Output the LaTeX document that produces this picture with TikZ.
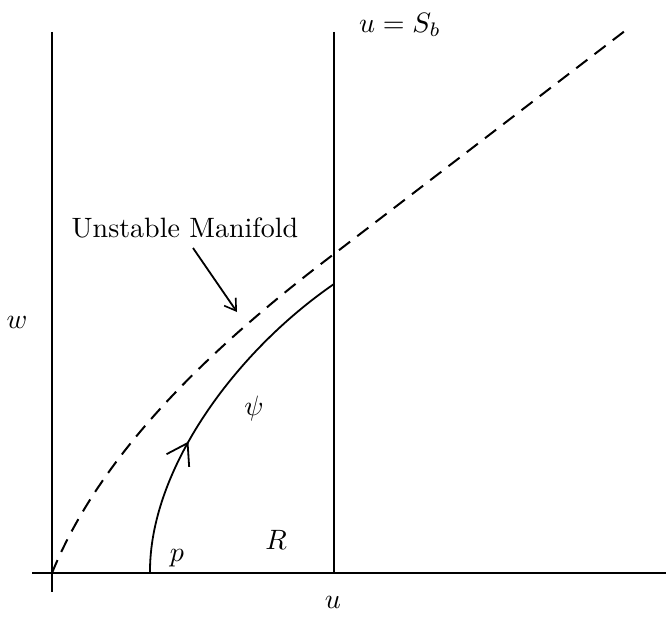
\documentclass[tikz,border=0pt]{standalone}
\usetikzlibrary{arrows.meta,decorations.markings}
\begin{document}
\begin{tikzpicture}[x=1pt,y=-1pt,
  axis/.style={line width=2pt},
  curve/.style={line width=1.8pt},
  manifold/.style={line width=2pt, dash pattern=on 14pt off 9pt},
  lab/.style={inner sep=0pt, scale=2.8},
]
\useasboundingbox (0,0) rectangle (666,623);
% axes and walls
\coordinate (haxL) at (32,573);
\coordinate (haxR) at (666,573);
\coordinate (vLtop) at (52,32);
\coordinate (vLbot) at (52,592);
\coordinate (vRtop) at (334,32);
\coordinate (vRbot) at (334,573);
\draw[axis] (haxL) -- (haxR);
\draw[axis] (vLtop) -- (vLbot);
\draw[axis] (vRtop) -- (vRbot);
% unstable manifold
\coordinate (O) at (52,573);
\coordinate (B) at (334,254);
\coordinate (E) at (630,27);
\draw[manifold] (O) .. controls (90,480) and (170,378) .. (B) -- (E);
% trajectory psi
\coordinate (P) at (150,573);
\coordinate (Q) at (334,284);
\draw[curve, postaction={decorate},
  decoration={markings, mark=at position 0.39 with {\arrow{Straight Barb[length=20pt,width=26pt,line width=1.8pt]}}}]
  (P) .. controls (149,470) and (235,352) .. (Q);
% labels
\node[lab] (um) at (185,228) {Unstable Manifold};
\coordinate (umstart) at (193,248);
\coordinate (umtip) at (237,312);
\draw[curve, -{Straight Barb[length=11pt,width=14pt,line width=1.6pt]}] (umstart) -- (umtip);
\node[lab] (sb) at (400,25) {$u=S_b$};
\node[lab] (wl) at (17,322) {$w$};
\node[lab] (ul) at (333,602) {$u$};
\node[lab] (psi) at (254,408) {$\psi$};
\node[lab] (R) at (276,540) {$R$};
\node[lab] (p) at (177,558) {$p$};
\end{tikzpicture}
\end{document}
